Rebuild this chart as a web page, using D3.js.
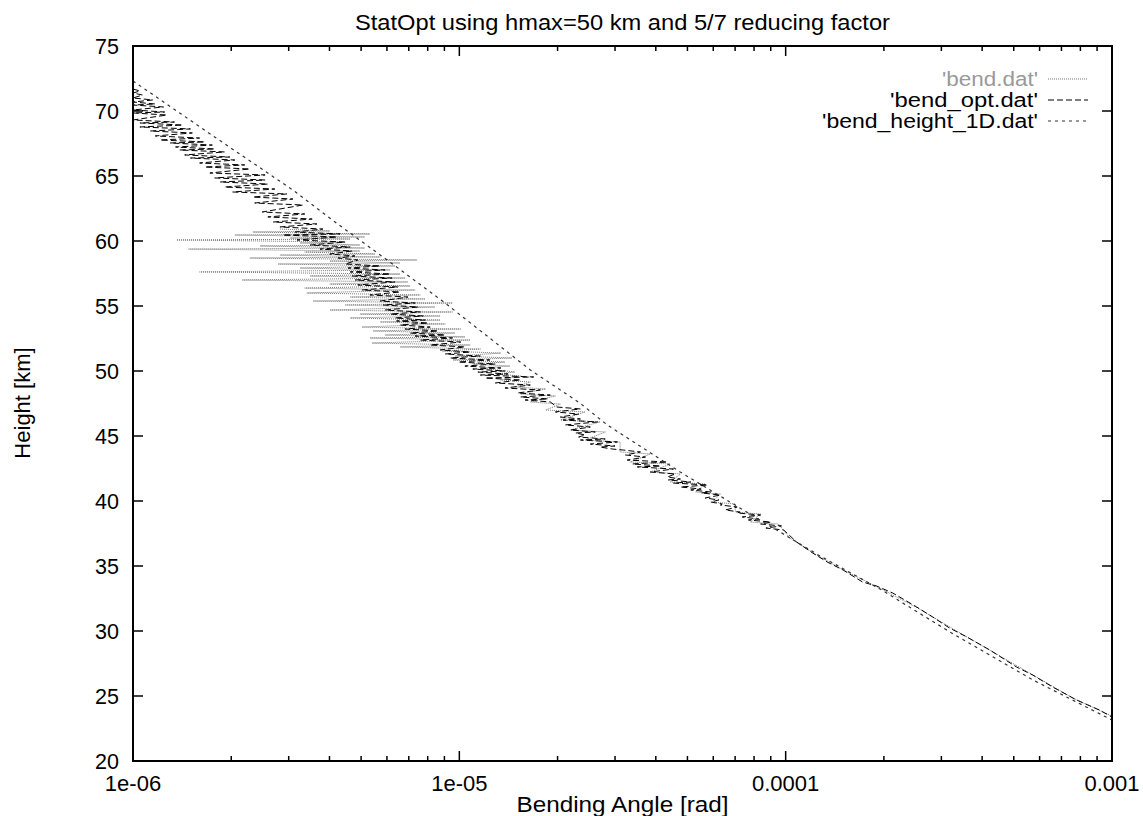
<!DOCTYPE html>
<html lang="en">
<head>
<meta charset="utf-8">
<title>StatOpt bending angle</title>
<script src="https://d3js.org/d3.v7.min.js"></script>
<style>
  body { margin: 0; background: white; }
  svg { display: block; background: white; font-family: "Liberation Sans", Arial, Helvetica, sans-serif; }
</style>
</head>
<body>
<script>
  var w = 1143, h = 816;

  // [height km, bending angle in microrad]
  var bendRaw = [
    [60.92, 2.82], [60.77, 4.01], [60.69, 2.33], [60.54, 5.32],
    [60.46, 2.05], [60.31, 5.13], [60.23, 3.03], [60.15, 4.63],
    [60.08, 1.36], [59.92, 4.47], [59.85, 3.25], [59.69, 4.96],
    [59.62, 2.45], [59.46, 5.13], [59.38, 1.48], [59.23, 4.96],
    [59.15, 3.36], [59.00, 5.52], [58.92, 2.82], [58.77, 5.72],
    [58.69, 2.28], [58.54, 7.42], [58.46, 4.01], [58.31, 6.58],
    [58.23, 2.78], [58.08, 6.35], [57.92, 3.25], [57.77, 6.14],
    [57.62, 1.60], [57.46, 6.58], [57.31, 3.49], [57.15, 6.82],
    [57.00, 2.16], [56.85, 6.96], [56.69, 4.01], [56.54, 7.06],
    [56.38, 3.36], [56.23, 7.32], [56.00, 3.41], [55.85, 7.59],
    [55.69, 4.63], [55.54, 7.86], [55.38, 3.56], [55.23, 9.53],
    [55.08, 4.47], [54.92, 8.42], [54.69, 4.01], [54.54, 9.53],
    [54.38, 4.96], [54.23, 8.74], [54.08, 4.63], [53.92, 8.74],
    [53.77, 5.72], [53.62, 9.05], [53.38, 5.03], [53.23, 10.1],
    [53.08, 5.44], [52.92, 9.70], [52.77, 5.92], [52.62, 10.4],
    [52.54, 5.32], [52.38, 10.8], [52.15, 5.40], [52.00, 10.8],
    [51.85, 6.58], [51.69, 11.6], [51.54, 8.85], [51.38, 13.4],
    [51.15, 9.70], [51.00, 14.5], [50.85, 9.56], [50.69, 13.8],
    [50.54, 11.0], [50.38, 14.3], [50.23, 11.6], [49.92, 14.8],
    [49.77, 12.9], [49.62, 15.4], [49.31, 13.4], [49.15, 16.5],
    [48.77, 14.8], [48.62, 18.4], [48.23, 15.4], [48.08, 19.7],
    [47.62, 16.5], [47.46, 20.4], [47.00, 18.4], [46.85, 24.3],
    [46.23, 20.4], [46.08, 27.0], [45.46, 21.9], [45.31, 28.0],
    [44.69, 24.3], [44.54, 31.1], [43.77, 31.1], [43.62, 38.5],
    [43.00, 33.4], [42.85, 44.3], [42.23, 38.5], [42.08, 47.6],
    [41.46, 44.3], [41.31, 56.7], [40.69, 52.9], [40.54, 63.1],
    [39.92, 59.6], [39.77, 70.1], [39.15, 70.1], [39.00, 83.8],
    [38.38, 78.0], [38.23, 95.0],
    [37.15, 103], [35.92, 123], [34.62, 152], [33.31, 194], [31.69, 257],
    [30.08, 330], [28.31, 437], [26.54, 580], [24.77, 769], [23.46, 1000]
  ];

  var bendOpt = [
    [71.69, 1.00], [71.54, 1.05], [71.38, 1.00], [71.23, 1.07],
    [71.00, 1.00], [70.85, 1.15], [70.69, 1.00], [70.54, 1.17],
    [70.46, 1.00], [70.31, 1.24], [70.08, 1.00], [69.92, 1.25],
    [69.85, 1.00], [69.69, 1.27], [69.31, 1.00], [69.15, 1.34],
    [69.08, 1.05], [68.92, 1.42], [68.77, 1.05], [68.62, 1.50],
    [68.46, 1.13], [68.31, 1.52], [68.08, 1.17], [67.92, 1.60],
    [67.77, 1.21], [67.62, 1.66], [67.54, 1.30], [67.38, 1.75],
    [67.23, 1.35], [67.08, 1.78], [67.00, 1.39], [66.85, 1.91],
    [66.62, 1.44], [66.46, 1.98], [66.38, 1.50], [66.23, 2.05],
    [66.00, 1.60], [65.85, 2.20], [65.69, 1.66], [65.54, 2.28],
    [65.23, 1.72], [65.08, 2.54], [64.85, 1.78], [64.69, 2.54],
    [64.54, 1.85], [64.38, 2.59], [64.15, 1.91], [64.00, 2.72],
    [63.77, 2.02], [63.62, 2.96], [63.38, 2.33], [63.23, 3.09],
    [62.92, 2.36], [62.77, 3.32], [62.23, 2.49], [62.08, 3.36],
    [61.85, 2.59], [61.69, 3.54], [61.46, 2.69], [61.31, 3.66],
    [61.08, 2.82], [60.92, 3.82], [60.69, 3.14], [60.54, 4.31],
    [60.46, 2.88], [60.31, 4.22], [60.08, 3.18], [59.92, 4.47],
    [59.69, 3.49], [59.54, 4.63], [59.38, 3.74], [59.23, 4.69],
    [59.00, 4.01], [58.85, 4.79], [58.69, 4.25], [58.54, 4.89],
    [58.23, 4.47], [58.08, 5.72], [57.92, 4.56], [57.77, 5.92],
    [57.62, 4.63], [57.46, 6.14], [57.31, 4.69], [57.15, 6.22],
    [57.00, 4.79], [56.85, 6.35], [56.62, 4.89], [56.46, 6.48],
    [56.23, 5.03], [56.08, 6.58], [55.85, 5.32], [55.69, 6.96],
    [55.38, 5.72], [55.23, 7.32], [55.08, 5.84], [54.92, 7.48],
    [54.69, 5.92], [54.54, 7.59], [54.38, 6.14], [54.23, 7.75],
    [54.08, 6.35], [53.92, 7.86], [53.85, 6.42], [53.69, 8.03],
    [53.54, 6.58], [53.38, 8.14], [53.23, 6.82], [53.08, 8.62],
    [52.92, 7.06], [52.77, 9.05], [52.69, 7.32], [52.54, 9.53],
    [52.38, 7.59], [52.23, 10.1], [52.00, 8.14], [51.85, 10.4],
    [51.62, 8.74], [51.46, 10.8], [51.31, 9.05], [51.15, 11.6],
    [51.00, 9.37], [50.85, 12.4], [50.69, 9.93], [50.54, 12.9],
    [50.38, 10.4], [50.23, 13.4], [50.15, 11.0], [50.00, 13.8],
    [49.92, 11.4], [49.77, 14.1], [49.69, 11.6], [49.54, 16.9],
    [49.46, 12.0], [49.31, 15.4], [49.08, 12.9], [48.92, 16.5],
    [48.69, 13.8], [48.54, 17.7], [48.31, 15.1], [48.15, 19.0],
    [48.00, 15.4], [47.85, 18.7], [47.77, 15.9], [47.62, 19.0],
    [47.23, 19.9], [47.08, 23.5], [46.85, 19.7], [46.69, 23.2],
    [46.46, 20.4], [46.31, 23.5], [46.23, 20.8], [46.08, 26.5],
    [45.85, 21.1], [45.69, 25.2], [45.46, 21.9], [45.31, 26.1],
    [45.23, 22.7], [45.08, 24.3], [44.92, 23.2], [44.77, 28.0],
    [44.69, 23.5], [44.54, 30.5], [44.38, 25.2], [44.23, 30.0],
    [44.15, 27.0], [44.00, 29.4], [43.92, 31.8], [43.77, 35.9],
    [43.54, 32.3], [43.38, 37.2], [43.15, 32.7], [43.00, 43.4],
    [42.85, 33.9], [42.69, 41.4], [42.62, 35.1], [42.46, 45.3],
    [42.23, 38.5], [42.08, 45.9], [41.85, 43.4], [41.69, 47.6],
    [41.62, 43.7], [41.46, 51.2], [41.38, 45.3], [41.23, 57.7],
    [41.08, 47.6], [40.92, 55.1], [40.85, 51.2], [40.69, 59.0],
    [40.62, 55.1], [40.46, 63.1], [40.23, 56.7], [40.08, 62.4],
    [39.92, 59.0], [39.77, 63.9], [39.69, 63.1], [39.54, 71.0],
    [39.31, 65.3], [39.15, 72.5], [39.08, 71.0], [38.92, 83.8],
    [38.77, 73.6], [38.62, 82.6], [38.54, 76.9], [38.38, 90.2],
    [38.23, 83.8], [38.08, 97.1], [37.92, 87.0], [37.77, 98.6],
    [36.85, 108], [36.00, 121], [35.31, 134], [34.69, 150], [33.77, 172],
    [33.46, 190], [32.92, 213], [31.85, 252], [31.08, 282], [30.23, 318],
    [29.54, 359], [28.54, 422], [27.23, 510], [26.62, 571], [25.69, 658],
    [24.69, 779], [23.92, 915], [23.38, 1000]
  ];

  var bend1D = [
    [72.31, 1.00], [68.08, 1.76], [63.92, 3.09], [61.46, 4.16], [58.38, 6.13],
    [55.23, 9.04], [50.08, 16.5], [47.54, 23.4], [45.85, 28.4], [42.23, 47.5],
    [38.85, 79.5], [35.77, 127.5], [33.15, 197], [30.00, 315], [26.23, 573],
    [23.15, 1000]
  ];

  var heightTicks = [20, 25, 30, 35, 40, 45, 50, 55, 60, 65, 70, 75];
  var angleDecades = [1e-6, 1e-5, 1e-4, 1e-3];
  var angleLabels = ["1e-06", "1e-05", "0.0001", "0.001"];
  var seriesNames = ["'bend.dat'", "'bend_opt.dat'", "'bend_height_1D.dat'"];
  var legendWidths = [96, 148, 216];

  var svg = d3.select("body").append("svg").attr("width", w).attr("height", h);

  var x = d3.scaleLog().domain([1e-6, 1e-3]).range([133, 1112]);
  var y = d3.scaleLinear().domain([20, 75]).range([761, 46]);
  var x0 = x.range()[0], x1 = x.range()[1], y0 = y.range()[0], y1 = y.range()[1];

  svg.append("clipPath").attr("id", "plotClip")
    .append("rect").attr("x", x0).attr("y", y1).attr("width", x1 - x0).attr("height", y0 - y1);

  // curves
  var line = d3.line()
    .x(function(d) { return x(d[1] * 1e-6); })
    .y(function(d) { return y(d[0]); });

  var plot = svg.append("g").attr("clip-path", "url(#plotClip)");
  var styles = [
    { data: bendRaw, stroke: "#777", width: 1, dash: "1,1" },
    { data: bendOpt, stroke: "#000", width: 1, dash: "6,3" },
    { data: bend1D, stroke: "#333", width: 1.2, dash: "3,4" }
  ];
  styles.forEach(function(s) {
    plot.append("path").datum(s.data)
      .attr("d", line)
      .attr("fill", "none")
      .attr("stroke", s.stroke)
      .attr("stroke-width", s.width)
      .attr("stroke-dasharray", s.dash);
  });

  // ticks
  var ticks = svg.append("g").attr("stroke", "#000").attr("stroke-width", 1.5);
  heightTicks.forEach(function(t) {
    ticks.append("line").attr("x1", x0).attr("x2", x0 + 10).attr("y1", y(t)).attr("y2", y(t));
    ticks.append("line").attr("x1", x1).attr("x2", x1 - 10).attr("y1", y(t)).attr("y2", y(t));
  });
  x.ticks().forEach(function(t) {
    var major = angleDecades.some(function(d) { return Math.abs(d - t) / d < 1e-6; });
    var len = major ? 10 : 5;
    ticks.append("line").attr("x1", x(t)).attr("x2", x(t)).attr("y1", y0).attr("y2", y0 - len);
    ticks.append("line").attr("x1", x(t)).attr("x2", x(t)).attr("y1", y1).attr("y2", y1 + len);
  });

  svg.append("rect")
    .attr("x", x0).attr("y", y1).attr("width", x1 - x0).attr("height", y0 - y1)
    .attr("fill", "none").attr("stroke", "#000").attr("stroke-width", 2);

  // tick labels
  svg.append("g").selectAll("text").data(heightTicks).enter().append("text")
    .attr("x", 119).attr("y", function(d) { return y(d); })
    .attr("dy", "0.36em").attr("text-anchor", "end")
    .style("font-size", "21.5px").text(function(d) { return d; });

  svg.append("g").selectAll("text").data(angleDecades).enter().append("text")
    .attr("x", function(d) { return x(d); }).attr("y", 791)
    .attr("text-anchor", "middle")
    .style("font-size", "22px").text(function(d, i) { return angleLabels[i]; });

  // titles
  svg.append("text").attr("x", (x0 + x1) / 2).attr("y", 30)
    .attr("text-anchor", "middle").style("font-size", "22px")
    .attr("textLength", 535).attr("lengthAdjust", "spacingAndGlyphs")
    .text("StatOpt using hmax=50 km and 5/7 reducing factor");
  svg.append("text").attr("x", (x0 + x1) / 2).attr("y", 812)
    .attr("text-anchor", "middle").style("font-size", "22px")
    .attr("textLength", 212).attr("lengthAdjust", "spacingAndGlyphs")
    .text("Bending Angle [rad]");
  svg.append("text").attr("transform", "translate(30,403) rotate(-90)")
    .attr("text-anchor", "middle").style("font-size", "22px")
    .text("Height [km]");

  // legend
  var legend = svg.append("g");
  seriesNames.forEach(function(name, i) {
    var ly = 79 + i * 21;
    legend.append("text").attr("x", 1038).attr("y", ly).attr("dy", "0.36em")
      .attr("text-anchor", "end").style("font-size", "20px")
      .attr("textLength", legendWidths[i]).attr("lengthAdjust", "spacingAndGlyphs")
      .attr("fill", i === 0 ? "#999" : "#000")
      .text(name);
    legend.append("line").attr("x1", 1048).attr("x2", 1088).attr("y1", ly).attr("y2", ly)
      .attr("stroke", styles[i].stroke).attr("stroke-width", styles[i].width)
      .attr("stroke-dasharray", styles[i].dash);
  });
</script>
</body>
</html>
